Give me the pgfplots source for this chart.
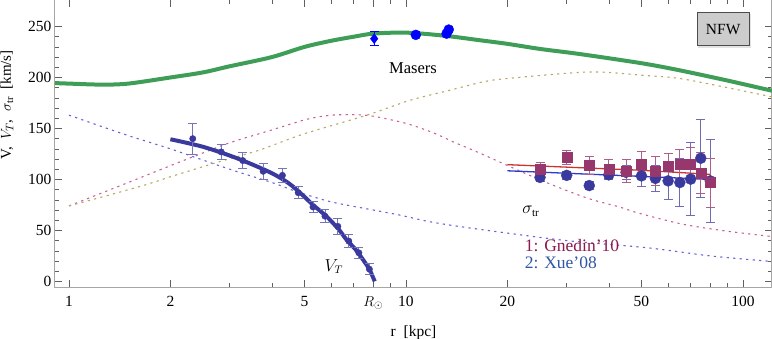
\documentclass[border=0pt]{standalone}
\usepackage{fontspec}
\setmainfont{Liberation Serif}
\usepackage{pgfplots}
\pgfplotsset{compat=1.18}

\definecolor{tot}{RGB}{62,158,88}
\definecolor{vt}{RGB}{58,58,158}
\definecolor{bulge}{RGB}{100,100,215}
\definecolor{disk}{RGB}{200,95,150}
\definecolor{halo}{RGB}{185,168,100}
\definecolor{gned}{RGB}{150,55,110}
\definecolor{xue}{RGB}{58,58,158}
\definecolor{redfit}{RGB}{205,50,50}
\definecolor{bluefit}{RGB}{45,60,205}
\definecolor{gnedtxt}{RGB}{140,25,80}
\definecolor{xuetxt}{RGB}{50,85,165}

\begin{document}
\begin{tikzpicture}
\useasboundingbox (-55pt,-51pt) rectangle (717pt,287pt);
\begin{semilogxaxis}[
  scale only axis, width=717pt, height=287pt,
  at={(0,0)}, anchor=south west,
  xmin=0.909, xmax=122, ymin=-5.5, ymax=276,
  xtick={1,2,5,10,20,50,100}, xticklabels={1,2,5,10,20,50,100},
  extra x ticks={8}, extra x tick labels={$R_\odot$},
  minor xtick={3,4,6,7,9,30,40,60,70,80,90},
  ytick={0,50,...,250}, minor y tick num=4,
  tick align=inside, major tick length=7pt, minor tick length=4pt,
  axis line style={gray!70, line width=1pt},
  every tick/.style={gray!75!black, line width=0.6pt},
  tick label style={font=\fontsize{15.5}{18}\selectfont},
  xticklabel style={yshift=-6pt},
  /pgf/number format/assume math mode=true,
  xlabel={r\ \ [kpc]},
  xlabel style={at={(axis description cs:0.5,-0.158)}, anchor=center, font=\fontsize{15.5}{18}\selectfont},
  ylabel={V,\ \ $V_T$,\ \ $\sigma_{\mathrm{tr}}$\ \ [km/s]},
  ylabel style={at={(axis description cs:-0.067,0.634)}, anchor=center, font=\fontsize{15}{18}\selectfont},
]
% components (dotted)
\addplot[bulge, line width=1.1pt, dash pattern=on 2.2pt off 4.3pt, smooth] coordinates {
 (1,163) (1.5,143) (2,130) (3,110) (4,97) (4.75,88) (6,78) (8,70) (9.6,65)
 (12,58) (16.6,51) (30,40) (52,33) (80,25) (122,19.5)};
\addplot[disk, line width=1.1pt, dash pattern=on 2.2pt off 4.3pt, smooth] coordinates {
 (1,74) (1.5,97) (2.09,116) (2.5,126) (3,136) (3.95,148) (5.08,159) (6,163) (7,163.5)
 (8,162) (10,155) (12,146) (14,136) (16.6,125.7) (25,99.6) (34.3,82) (43,73)
 (49,67) (66.5,56) (91,49) (122,44)};
\addplot[halo, line width=1.1pt, dash pattern=on 2.2pt off 4.3pt, smooth] coordinates {
 (1,74) (1.62,93) (2.04,103.5) (2.77,117) (3.69,129) (4.96,144.5) (7.65,163)
 (10.3,177.7) (13.5,187.5) (16.9,195.6) (20,199) (35,205.4) (51,202) (65,199)
 (90,190) (122,181)};
% total
\addplot[tot, line width=4pt, smooth] coordinates {
 (0.909,194.5) (1,194) (1.25,193) (1.5,194) (2,200) (2.5,205) (3,211) (4,220) (5,230)
 (6,236) (7,240) (8,243) (10,244) (13,241) (16.6,236.5) (20,233) (25,228)
 (32.8,223) (50,214) (65,207) (90,197) (122,187)};
% V_T curve
\addplot[vt, line width=4pt, smooth] coordinates {
 (2,139.4) (2.5,132) (3.14,121) (3.95,107) (4.5,96) (4.96,84) (5.3,75) (5.8,64)
 (6.3,51.5) (6.66,41) (7.1,31) (7.47,21) (7.8,11.5) (8.08,0)};
% V_T data
\addplot[only marks, mark=*, mark size=3.2pt, vt,
  error bars/.cd, y dir=both, y explicit,
  error bar style={vt!70, line width=0.8pt},
  error mark options={rotate=90, vt!70, mark size=4.5pt, line width=0.8pt}] coordinates {
 (2.33,140) +- (0,15) (2.83,127) +- (0,7.5) (3.28,118.5) +- (0,7.8)
 (3.77,108) +- (0,7.5) (4.30,104) +- (0,6.5) (4.79,87) +- (0,6)
 (5.30,73) +- (0,5) (5.75,64) +- (0,6.2) (6.28,54) +- (0,7.5)
 (6.77,39.5) +- (0,6.6) (7.25,28) +- (0,5.5) (7.79,12) +- (0,5.3)};
% fits
\addplot[redfit, line width=1.3pt] coordinates {(20,114.5) (50,109) (80,105)};
\addplot[bluefit, line width=1.3pt] coordinates {(20,108.5) (50,103) (80,100)};
% Xue'08
\addplot[only marks, mark=*, mark size=5.5pt, xue,
  error bars/.cd, y dir=both, y explicit,
  error bar style={xue!75, line width=0.9pt},
  error mark options={rotate=90, xue!75, mark size=4.5pt, line width=0.9pt}] coordinates {
 (25,102) +- (0,4) (30,104) +- (0,4) (35,94) +- (0,4) (40,104.5) +- (0,5)
 (45,107) +- (0,7) (50,103.5) +- (0,10.5) (55,101) +- (0,13) (60,98.6) +- (0,18.6)
 (65,97) +- (0,23.6) (70,100.3) +- (0,36) (75,120.8) +- (0,38) (80,98.6) +- (0,41)};
% Gnedin'10
\addplot[only marks, mark=square*, mark size=5pt, gned,
  error bars/.cd, y dir=both, y explicit,
  error bar style={gned!80, line width=0.9pt},
  error mark options={rotate=90, gned!80, mark size=4.5pt, line width=0.9pt}] coordinates {
 (25,110) +- (0,6.5) (30,121.4) +- (0,7) (35,114) +- (0,9) (40,110) +- (0,9.5)
 (45,108.4) +- (0,11) (50,114.5) +- (0,12.6) (55,108.4) +- (0,14.6) (60,112.6) +- (0,13)
 (65,115) +- (0,14) (70,115) +- (0,16) (75,106.5) +- (0,20) (80,97) +- (0,24)};
% Masers
\addplot[only marks, mark=diamond*, mark size=5pt, blue,
  error bars/.cd, y dir=both, y explicit,
  error bar style={blue, line width=0.9pt},
  error mark options={rotate=90, blue, mark size=4.5pt, line width=0.9pt}] coordinates {
 (8.05,238) +- (0,7)};
\addplot[only marks, mark=*, mark size=5pt, blue,
  error bars/.cd, y dir=both, y explicit,
  error bar style={blue!60, line width=0.9pt},
  error mark options={rotate=90, blue!60, mark size=4pt, line width=0.9pt}] coordinates {
 (10.7,241.8) +- (0,3) (13.2,243) +- (0,3) (13.4,247) +- (0,3)};

\node[font=\fontsize{16.5}{19}\selectfont] at (axis cs:10.5,209) {Masers};
\node[font=\fontsize{16}{19}\selectfont] at (axis cs:23.5,68.5) {$\sigma_{\mathrm{tr}}$};
\node[font=\fontsize{16}{19}\selectfont] at (axis cs:6.11,14.7) {$V_T$};
\node[anchor=west, gnedtxt, font=\fontsize{17.5}{20}\selectfont] at (axis cs:22,35.2) {1: Gnedin'10};
\node[anchor=west, xuetxt, font=\fontsize{17.5}{20}\selectfont] at (axis cs:22,18.3) {2: Xue'08};
\node[fill=gray!22, minimum width=53pt, minimum height=34pt] at ([xshift=1.5pt,yshift=-1.5pt]axis cs:87.4,247.4) {};
\node[fill=gray!40, draw=gray!60!black, line width=1.2pt, minimum width=52pt, minimum height=33pt,
  font=\fontsize{15.5}{18}\selectfont] at (axis cs:87.4,247.4) {NFW};
\end{semilogxaxis}
\end{tikzpicture}
\end{document}
